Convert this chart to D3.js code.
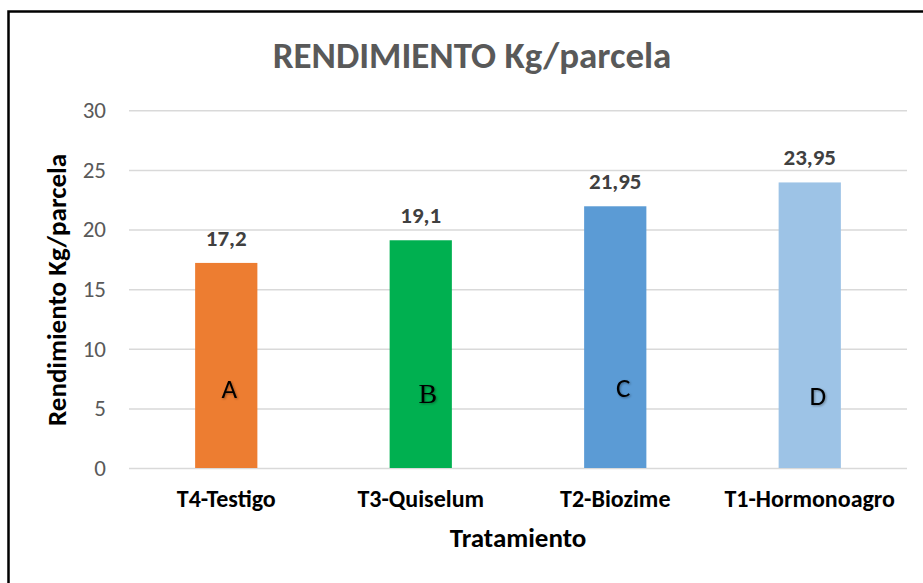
<!DOCTYPE html>
<html>
<head>
<meta charset="utf-8">
<script src="https://cdn.jsdelivr.net/npm/d3@7"></script>
<style>
  body { margin: 0; background: #fff; }
  svg { display: block; font-family: Carlito, Lato, "Open Sans", sans-serif; }
</style>
</head>
<body>
<svg id="chart"></svg>
<script>
// data
const categories = ['T4-Testigo', 'T3-Quiselum', 'T2-Biozime', 'T1-Hormonoagro'];
const values = [17.2, 19.1, 21.95, 23.95];
const groupLetters = ['A', 'B', 'C', 'D'];
const yTicks = [0, 5, 10, 15, 20, 25, 30];

const barColors = ['#ED7D31', '#00B050', '#5B9BD5', '#9DC3E6'];
const letterFonts = ['Carlito, Lato', 'Liberation Serif', 'Carlito, Lato', 'Carlito, Lato'];
const letterSizes = [27, 28, 27, 27];
const letterDx = [3, 7, 8, 8];
const letterDy = [-4, 1, -5, 3];

const width = 923, height = 583;
const margin = {top: 110, right: 16, bottom: 115, left: 129};

const svg = d3.select('#chart')
    .attr('width', width)
    .attr('height', height);

// outer frame
svg.append('rect')
    .attr('x', 8.5)
    .attr('y', 11.5)
    .attr('width', 940)
    .attr('height', 600)
    .attr('fill', 'none')
    .attr('stroke', '#000')
    .attr('stroke-width', 2.5);

const x = d3.scaleBand()
    .domain(categories)
    .range([margin.left, width - margin.right])
    .paddingInner(0.68)
    .paddingOuter(0.34);

const y = d3.scaleLinear()
    .domain([0, 30])
    .range([height - margin.bottom, margin.top + 0.3]);

// grid lines + tick labels
const yAxis = svg.append('g')
    .attr('transform', `translate(${margin.left},0)`)
    .call(d3.axisLeft(y)
        .tickValues(yTicks)
        .tickSize(-(width - margin.left - margin.right))
        .tickPadding(23));
yAxis.select('.domain').remove();
yAxis.selectAll('.tick line')
    .attr('stroke', '#d9d9d9')
    .attr('stroke-width', 1.5);
yAxis.selectAll('.tick text')
    .attr('fill', '#595959')
    .style('font-size', '23px')
    .style('font-family', 'Carlito, Lato, sans-serif');

// bars
const data = categories.map((c, i) => ({cat: c, value: values[i], letter: groupLetters[i], i: i}));

svg.append('g')
    .selectAll('rect')
    .data(data)
    .join('rect')
    .attr('x', d => x(d.cat))
    .attr('y', d => y(d.value))
    .attr('width', x.bandwidth())
    .attr('height', d => y(0) - y(d.value))
    .attr('fill', d => barColors[d.i]);

// value labels
svg.append('g')
    .selectAll('text')
    .data(data)
    .join('text')
    .attr('x', d => x(d.cat) + x.bandwidth() / 2)
    .attr('y', d => y(d.value) - 17)
    .attr('text-anchor', 'middle')
    .attr('fill', '#404040')
    .style('font-size', '23px')
    .style('font-weight', 'bold')
    .text(d => d3.format('.2~f')(d.value).replace('.', ','));

// group letters inside bars
svg.append('g')
    .selectAll('text')
    .data(data)
    .join('text')
    .attr('x', d => x(d.cat) + x.bandwidth() / 2 + letterDx[d.i])
    .attr('y', d => y(5.5) + letterDy[d.i])
    .attr('text-anchor', 'middle')
    .attr('fill', '#000')
    .style('font-size', d => letterSizes[d.i] + 'px')
    .style('font-family', d => letterFonts[d.i])
    .style('filter', 'drop-shadow(1px 1px 1px rgba(0,0,0,0.35))')
    .text(d => d.letter);

// category labels
svg.append('g')
    .selectAll('text')
    .data(data)
    .join('text')
    .attr('x', d => x(d.cat) + x.bandwidth() / 2)
    .attr('y', y(0) + 39)
    .attr('text-anchor', 'middle')
    .attr('fill', '#000')
    .style('font-size', '24px')
    .style('font-weight', 'bold')
    .text(d => d.cat);

// title
svg.append('text')
    .attr('x', 472)
    .attr('y', 68)
    .attr('text-anchor', 'middle')
    .attr('fill', '#595959')
    .style('font-size', '37px')
    .style('font-weight', 'bold')
    .text('RENDIMIENTO Kg/parcela');

// axis titles
svg.append('text')
    .attr('x', (margin.left + width - margin.right) / 2)
    .attr('y', 547)
    .attr('text-anchor', 'middle')
    .attr('fill', '#000')
    .style('font-size', '27px')
    .style('font-weight', 'bold')
    .text('Tratamiento');

svg.append('text')
    .attr('transform', 'translate(66,290) rotate(-90)')
    .attr('text-anchor', 'middle')
    .attr('fill', '#000')
    .style('font-size', '27px')
    .style('font-weight', 'bold')
    .text('Rendimiento Kg/parcela');
</script>
</body>
</html>
